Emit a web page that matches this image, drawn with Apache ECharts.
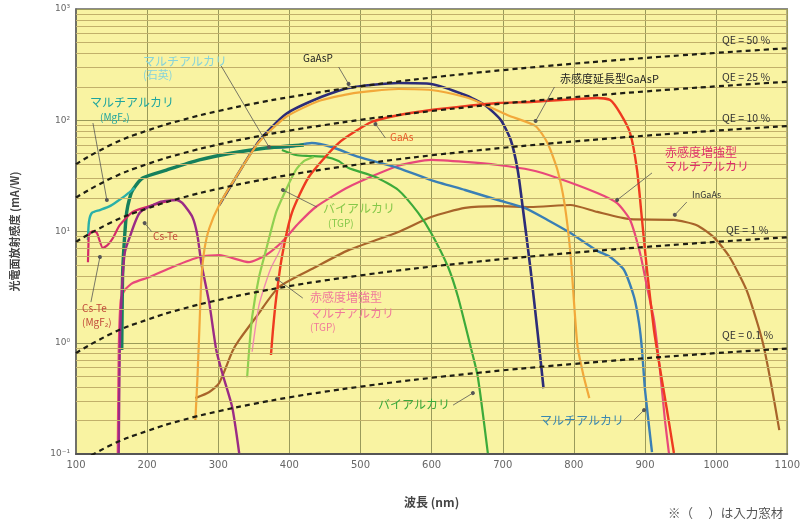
<!DOCTYPE html>
<html><head><meta charset="utf-8">
<script src="https://cdn.jsdelivr.net/npm/echarts/dist/echarts.min.js"></script>
<style>html,body{margin:0;padding:0;background:#fff;}#c{width:803px;height:522px;}</style>
</head><body><div id="c"></div>
<script>
// ---- data (wavelength nm, sensitivity mA/W) ----
const yTickValues = [0.1, 1, 10, 100, 1000];
const yTickLabels = ['10⁻¹', '10⁰', '10¹', '10²', '10³'];

const qeWavelengths = [100,150,200,250,300,350,400,450,500,550,600,650,700,750,800,850,900,950,1000,1050,1100];
const qe50 = [40.3,60.5,80.7,100.8,121,141.2,161.3,181.5,201.7,221.8,242,262.2,282.3,302.5,322.7,342.8,363,383.2,403.3,423.5,443.7];
const qe25 = [20.2,30.2,40.3,50.4,60.5,70.6,80.7,90.7,100.8,110.9,121,131.1,141.2,151.2,161.3,171.4,181.5,191.6,201.7,211.7,221.8];
const qe10 = [8.07,12.1,16.1,20.2,24.2,28.2,32.3,36.3,40.3,44.4,48.4,52.4,56.5,60.5,64.5,68.6,72.6,76.6,80.7,84.7,88.7];
const qe1  = [0.807,1.21,1.61,2.02,2.42,2.82,3.23,3.63,4.03,4.44,4.84,5.24,5.65,6.05,6.45,6.86,7.26,7.66,8.07,8.47,8.87];
const qe01 = [0.0807,0.121,0.161,0.202,0.242,0.282,0.323,0.363,0.403,0.444,0.484,0.524,0.565,0.605,0.645,0.686,0.726,0.766,0.807,0.847,0.887];

const multialkaliMgF2 = [[116.8,8.4],[118.2,12.2],[122.4,14.7],[133.6,15.6],[147.6,16.9],[158.7,18.8],[168.5,20.8],[175.5,22.6],[182.5,24.6]];
const multialkaliQuartz = [[164.3,0.86],[165,2.42],[165.7,4.5],[168.5,9.3],[171.3,15.0],[175.5,20.0],[179.7,23.6],[193.7,30.3],[227.3,35.7],[273.4,44.0],[319.6,50.8],[367.1,56.3],[399.3,58.7],[420.3,59.9]];
const multialkali = [[367.1,56.3],[399.3,57.5],[431.5,62.4],[459.4,57.5],[497.2,46.8],[553.1,37.2],[599.3,29.0],[646.9,23.6],[693,19.2],[730.8,16.3],[762.9,12.7],[795.1,9.7],[832.9,6.7],[851,5.9],[870.6,4.5],[884.6,2.58],[891.6,1.5],[895.8,0.86],[900,0.376],[909.8,0.104]];
const bialkali = [[389.5,54.0],[409.1,48.7],[427.3,47.7],[451,46.8],[469.2,43.0],[483.2,37.2],[521,30.9],[553.1,23.6],[581.1,14.7],[599.3,9.7],[623.1,4.8],[637.1,2.58],[655.2,0.90],[665,0.49],[679,0.102]];
const bialkaliTGP = [[340.6,0.49],[343.4,0.86],[347.6,1.70],[357.3,3.90],[367.1,6.8],[381.1,14.7],[395.1,23.6],[409.1,35.7],[420.3,43.0],[434.3,46.8]];
const csTe = [[160.1,0.102],[161.5,0.86],[164.3,2.80],[168.5,6.4],[175.5,8.9],[189.5,14.7],[217.5,18.4],[241.3,19.2],[249.7,18.0],[263.6,13.5],[270.6,9.3],[276.2,5.2],[287.4,2.27],[297.2,0.86],[305.6,0.535],[319.6,0.264],[329.4,0.102]];
const csTeMgF2 = [[116.8,5.3],[117.5,7.6],[118.2,9.3],[123.8,10.1],[129.4,9.7],[137.8,7.1],[144.8,7.6],[151.7,8.7],[161.5,11.4],[179.7,15.0],[199.3,16.6],[217.5,18.0],[231.5,18.8]];
const extRedMultialkali = [[158.7,0.102],[160.1,0.86],[162.9,2.42],[168.5,2.98],[179.7,3.44],[203.5,3.90],[235.7,4.80],[273.4,5.90],[301.4,6.15],[343.4,5.3],[367.1,6.15],[389.5,8.05],[413.3,11.9],[437.1,16.6],[483.2,25.1],[553.1,39],[599.3,44.0],[646.9,42.2],[693,39.6],[739.2,35.7],[776.9,30.3],[832.9,22.2],[860.8,18.0],[879,12.7],[893,6.4],[902.8,3.17],[912.6,1.60],[921,0.569],[928,0.202],[933.6,0.102]];
const extRedMultialkaliTGP = [[347.6,0.83],[351.7,1.30],[357.3,2.18],[365.7,3.30],[374.1,4.70],[385.3,6.5],[391,8.1]];
const gaAsP = [[301.4,17.3],[329.4,34.3],[357.3,65.1],[395.1,113.8],[441.3,158.5],[483.2,195],[553.1,216],[599.3,212],[646.9,168.6],[674.8,137],[697.2,100.5],[711.2,66.4],[721,35.7],[728,16.6],[739.2,4.5],[751.7,0.86],[757.3,0.39]];
const extRedGaAsP = [[267.8,0.202],[270.6,0.462],[273.4,1.30],[276.2,3.66],[280.4,6.8],[287.4,10.7],[301.4,17.3],[329.4,34.3],[357.3,63.7],[395.1,107],[441.3,149],[483.2,172],[553.1,191],[599.3,187],[646.9,162],[669.2,143],[707,111],[746.2,88.7],[762.9,62.4],[776.9,35.7],[786.7,18.0],[795.1,6.4],[804.9,0.955],[813.3,0.513],[821.7,0.318]];
const gaAs = [[374.1,0.776],[376.9,1.30],[381.1,2.42],[389.5,5.9],[403.5,14.7],[427.3,30.9],[469.2,62.4],[515.4,96.4],[553.1,111],[599.3,123.6],[646.9,134],[693,143],[739.2,146],[832.9,158.5],[851,152],[865,116],[879,76.8],[888.8,35.7],[895.8,12.7],[902.8,4.5],[912.6,1.30],[921,0.59],[930.8,0.25],[940.6,0.102]];
const inGaAs = [[267.8,0.318],[287.4,0.361],[301.4,0.435],[319.6,0.83],[329.4,1.06],[353.1,1.70],[385.3,3.17],[437.1,4.80],[483.2,6.8],[553.1,9.9],[599.3,13.5],[646.9,16.3],[693,16.9],[739.2,16.6],[795.1,17.3],[832.9,15.0],[879,12.9],[940.6,12.7],[972.7,11.4],[996.5,8.9],[1018.9,5.9],[1042.7,2.98],[1056.6,1.60],[1066.4,0.955],[1077.6,0.417],[1088.8,0.164]];

// leader lines for labels: [from, to] in data coords
const leaders = [
  [[469.2,301],[483.2,212]],
  [[772.7,199],[746.2,98.4]],
  [[535,69.2],[521,92.5]],
  [[909.8,33.6],[860.8,19.2]],
  [[958.7,18.4],[941.9,14.1]],
  [[206.3,10],[196.5,11.9]],
  [[121,2.32],[133.6,5.9]],
  [[123.8,94.4],[143.4,19.2]],
  [[304.2,307],[371.3,57.5]],
  [[438.5,16.6],[390.9,23.6]],
  [[418.9,2.52],[382.5,3.74]],
  [[630.1,0.275],[658,0.353]],
  [[884.6,0.202],[898.6,0.248]]
];

// ---- chart ----
const FONT = '"Noto Sans CJK JP", "Noto Sans", sans-serif';
const chart = echarts.init(document.getElementById('c'));

const minorGrid = [];
[0.1, 1, 10, 100].forEach(d => { for (let m = 2; m <= 9; m++) minorGrid.push(+(d * m).toPrecision(3)); });

function curve(data, color, width, z) {
  return { type: 'line', data, smooth: 0.2, showSymbol: false, symbol: 'none', silent: true,
    lineStyle: { color, width }, z: z || 3 };
}
function qe(vals) {
  return { type: 'line', data: qeWavelengths.map((w, i) => [w, vals[i]]), smooth: true, showSymbol: false,
    symbol: 'none', silent: true, lineStyle: { color: '#1e1e14', width: 2.2, type: [5, 4] }, z: 6 };
}

const labels = [
  ['マルチアルカリ', 143, 61, '#86d3da', 12],
  ['(石英)', 143, 75, '#86d3da', 11],
  ['マルチアルカリ', 90, 102, '#1fa59e', 12],
  ['(MgF₂)', 100, 117, '#1fa59e', 10],
  ['GaAsP', 303, 58, '#222', 10],
  ['赤感度延長型GaAsP', 560, 79, '#222', 11],
  ['QE = 50 %', 722, 40, '#333', 10.5],
  ['QE = 25 %', 722, 77, '#333', 10.5],
  ['QE = 10 %', 722, 118, '#333', 10.5],
  ['QE = 1 %', 726, 230, '#333', 10.5],
  ['QE = 0.1 %', 722, 335, '#333', 10.5],
  ['GaAs', 390, 137, '#ea5a2a', 10],
  ['赤感度増強型', 665, 152, '#e0306a', 12],
  ['マルチアルカリ', 665, 166, '#e0306a', 12],
  ['InGaAs', 692, 195, '#333', 9],
  ['Cs-Te', 153, 236, '#c24a3a', 10],
  ['Cs-Te', 82, 308, '#c24a3a', 10],
  ['(MgF₂)', 82, 322, '#c24a3a', 10],
  ['バイアルカリ', 323, 208, '#86c84a', 12],
  ['(TGP)', 328, 223, '#86c84a', 10],
  ['赤感度増強型', 310, 297, '#f07a9a', 12],
  ['マルチアルカリ', 310, 313, '#f07a9a', 12],
  ['(TGP)', 310, 327, '#f07a9a', 10],
  ['バイアルカリ', 378, 404, '#3aa83a', 12],
  ['マルチアルカリ', 540, 420, '#3a88b0', 12],
  ['※（　 ）は入力窓材', 668, 513, '#555', 12.5]
];

chart.setOption({
  animation: false,
  backgroundColor: '#ffffff',
  grid: { left: 76, right: 12, top: 9, bottom: 68, show: true, backgroundColor: '#f9f3a2', borderColor: '#666', borderWidth: 1.5 },
  xAxis: {
    type: 'value', min: 100, max: 1100, interval: 100,
    name: '波長 (nm)', nameLocation: 'middle', nameGap: 42,
    nameTextStyle: { fontFamily: FONT, fontSize: 12, fontWeight: 'bold', color: '#444' },
    axisLine: { show: true, lineStyle: { color: '#555', width: 2 } },
    axisTick: { show: false },
    axisLabel: { fontSize: 10, color: '#666', margin: 6, fontFamily: 'DejaVu Sans', formatter: v => String(v) },
    splitLine: { show: true, lineStyle: { color: '#9a9a5a', width: 1 } }
  },
  yAxis: {
    type: 'log', logBase: 10, min: 0.1, max: 1000,
    name: '光電面放射感度 (mA/W)', nameLocation: 'middle', nameGap: 56, nameRotate: 90,
    nameTextStyle: { fontFamily: FONT, fontSize: 11, fontWeight: 'bold', color: '#444' },
    axisLine: { show: true, lineStyle: { color: '#666', width: 1.5 } },
    axisTick: { show: false },
    axisLabel: { fontSize: 9, color: '#666', margin: 6, fontFamily: 'DejaVu Sans',
      formatter: v => { const i = yTickValues.findIndex(t => Math.abs(t - v) / t < 1e-6); return i >= 0 ? yTickLabels[i] : ''; } },
    splitLine: { show: true, lineStyle: { color: '#9a9a5a', width: 1 } }
  },
  series: [
    { type: 'line', data: [], silent: true, z: 1,
      markLine: { silent: true, symbol: 'none', label: { show: false }, animation: false,
        lineStyle: { color: '#c2b06a', width: 1, type: 'solid' },
        data: minorGrid.map(v => ({ yAxis: v })) } },
    curve(inGaAs, '#a8642a', 2.2, 3),
    curve(extRedMultialkaliTGP, '#f08ab0', 1.4, 3),
    curve(extRedMultialkali, '#e8487a', 2.2, 3),
    curve(bialkali, '#3daa3a', 2.2, 3),
    curve(bialkaliTGP, '#8fd050', 2.2, 3),
    curve(multialkali, '#3a7fb5', 2.4, 3),
    curve(multialkaliQuartz, '#16805c', 3.4, 4),
    curve(multialkaliMgF2, '#2ab0a8', 2.4, 4),
    curve(csTeMgF2, '#d42a6a', 2.2, 4),
    curve(csTe, '#9b2b85', 2.4, 4),
    curve(gaAsP, '#2c2c78', 2.6, 4),
    curve(extRedGaAsP, '#f2a83a', 2.2, 4),
    curve(gaAs, '#ee3a20', 2.4, 4),
    qe(qe50), qe(qe25), qe(qe10), qe(qe1), qe(qe01),
    { type: 'line', data: [], silent: true, z: 7,
      markLine: { silent: true, symbol: ['none', 'circle'], symbolSize: 4, label: { show: false }, animation: false,
        lineStyle: { color: '#555', width: 0.8, type: 'solid' },
        data: leaders.map(p => [{ coord: p[0] }, { coord: p[1] }]) } }
  ],
  graphic: labels.map(l => ({
    type: 'text', x: l[1], y: l[2], z: 100, silent: true,
    style: { text: l[0], fill: l[3], fontSize: l[4], fontFamily: FONT, verticalAlign: 'middle', align: 'left' }
  }))
});
</script>
</body></html>
